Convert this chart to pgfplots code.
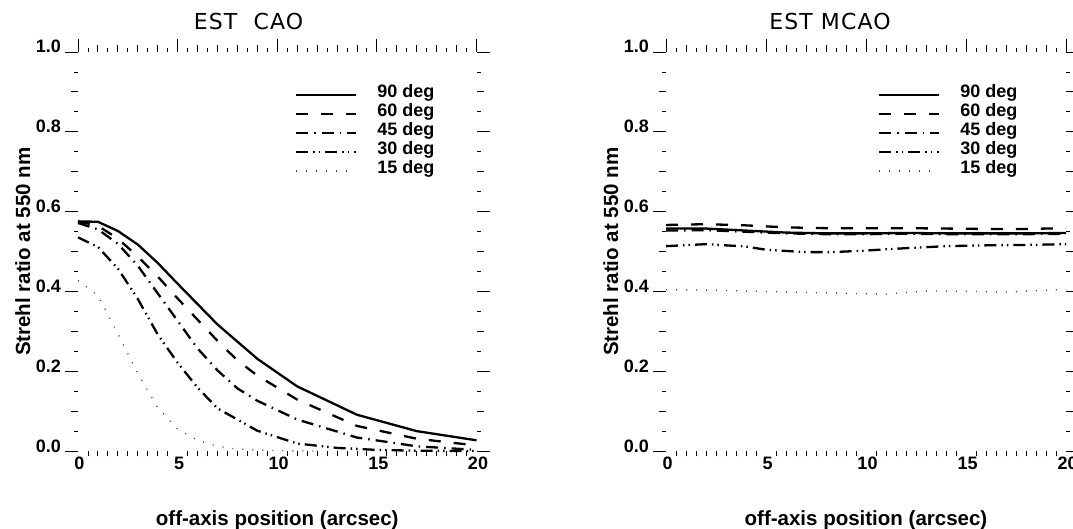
\documentclass[border=0pt]{standalone}
\usepackage{fontspec}
\setmainfont{Liberation Sans}
\newfontfamily\titlefont[LetterSpace=5]{DejaVu Sans}
\usepackage{pgfplots}
\pgfplotsset{compat=1.18}

% one pt of the picture is one pixel of the reference
\pgfplotsset{
  frame/.style={scale only axis, width=#1, height=399.5pt,
    xmin=0, xmax=20, ymin=0, ymax=1, clip=false,
    axis line style={draw=none}, tick align=outside,
    tick style={black, line width=0.9pt}},
  s90/.style={black, line width=2.3pt, solid},
  s60/.style={black, line width=2.3pt, dash pattern=on 12pt off 13pt},
  s45/.style={black, line width=2.3pt, dash pattern=on 12pt off 6pt on 1.5pt off 6pt},
  s30/.style={black, line width=2.3pt, dash pattern=on 12pt off 5pt on 1.5pt off 4pt on 1.5pt off 5pt},
  s15/.style={black!75, line width=1.3pt, dash pattern=on 1pt off 9pt},
  data axis/.style={frame=#1, anchor=south west,
    xtick={0,5,10,15,20}, xticklabels={0,5,10,15,20},
    ytick={0,0.2,0.4,0.6,0.8,1}, yticklabels={0.0,0.2,0.4,0.6,0.8,1.0},
    xtick pos=left, ytick pos=left, major tick length=0pt,
    xticklabel style={font=\bfseries\fontsize{18}{18}\selectfont, anchor=north, inner sep=0pt, yshift=-5.5pt, xshift=1.5pt},
    yticklabel style={font=\bfseries\fontsize{18}{18}\selectfont, anchor=base east, inner sep=0pt, xshift=-17pt, yshift=-1pt},
    xlabel={off-axis position (arcsec)},
    xlabel style={font=\bfseries\fontsize{20.5}{22}\selectfont, at={(axis description cs:0.5,0)}, anchor=base, yshift=-74.5pt},
    ylabel={Strehl ratio at 550 nm},
    ylabel style={font=\bfseries\fontsize{20.5}{22}\selectfont, at={(axis description cs:-0.12,0.5)}, anchor=base},
    title style={font=\titlefont\fontsize{22}{24}\selectfont, anchor=base, inner sep=0pt, yshift=16pt},
    legend cell align=left,
    legend image code/.code={\draw[##1] (0pt,-1.5pt) -- (60pt,-1.5pt);},
    legend style={draw=none, fill=none, anchor=north west,
      inner sep=0pt, outer sep=0pt, row sep=0pt, column sep=20pt,
      font=\bfseries\fontsize{18}{18}\selectfont,
      nodes={inner sep=0pt, text height=14pt, text depth=5pt}}},
}

% the three kinds of tick marks, each drawn by an empty axis over the data axis
\newcommand\tickframes[2]{%
  \begin{axis}[frame=#2, at={#1}, anchor=south west,
    xtick={0,5,10,15,20}, xtick pos=right,
    ytick={0,0.2,0.4,0.6,0.8,1}, ytick pos=both,
    major tick length=13pt,
    minor xtick={0.5,1,...,19.5}, minor ytick={0.05,0.15,0.25,0.35,0.45,0.55,0.65,0.75,0.85,0.95},
    minor tick length=4pt, xticklabels={}, yticklabels={}]
  \end{axis}
  \begin{axis}[frame=#2, at={#1}, anchor=south west,
    xtick={1,2,3,4,6,7,8,9,11,12,13,14,16,17,18,19}, xtick pos=right,
    ytick={0.1,0.3,0.5,0.7,0.9}, ytick pos=both,
    major tick length=7pt, xticklabels={}, yticklabels={}]
  \end{axis}
  \begin{axis}[frame=#2, at={#1}, anchor=south west,
    xtick={0.5,1,1.5,2,2.5,3,3.5,4,4.5,5.5,6,6.5,7,7.5,8,8.5,9,9.5,10.5,11,11.5,12,12.5,13,13.5,14,14.5,15.5,16,16.5,17,17.5,18,18.5,19,19.5},
    xtick pos=left, ytick=\empty,
    major tick length=5pt, xticklabels={}]
  \end{axis}}

\begin{document}
\begin{tikzpicture}

% ---------------- EST CAO ----------------
\tickframes{(78pt,77.5pt)}{398.5pt}
\begin{axis}[data axis=398.5pt, at={(78pt,77.5pt)},
  title={EST\ \ CAO}, title style={at={(axis description cs:0.428,1)}},
  legend style={at={(axis cs:10.89,0.92)}}]
\addplot[s90] coordinates {(0,0.576) (1,0.575) (2,0.552) (3,0.518) (4,0.472) (5,0.42) (7,0.318) (9,0.232) (11,0.163) (14,0.092) (17,0.051) (20,0.028)};
\addplot[s60] coordinates {(0,0.576) (1,0.565) (2,0.533) (3,0.488) (4,0.438) (5,0.383) (6,0.33) (7,0.277) (8,0.228) (9,0.19) (11,0.13) (14,0.064) (17,0.032) (20,0.015)};
\addplot[s45] coordinates {(0,0.572) (1,0.556) (2,0.52) (3,0.465) (4,0.396) (5,0.327) (6,0.258) (7,0.203) (8,0.158) (9,0.127) (11,0.08) (14,0.035) (17,0.013) (20,0.004)};
\addplot[s30] coordinates {(0,0.536) (1,0.512) (2,0.458) (3,0.382) (4,0.293) (5,0.222) (6,0.16) (7,0.108) (9,0.052) (11,0.02) (13,0.009) (15,0.004) (17,0.002) (20,0.001)};
\addplot[s15] coordinates {(0,0.428) (1,0.39) (2,0.295) (3,0.195) (4,0.11) (5,0.056) (6,0.028) (7,0.013) (8,0.006) (10,0.002) (12,0.001)};
\legend{90 deg, 60 deg, 45 deg, 30 deg, 15 deg}
\end{axis}

% ---------------- EST MCAO ----------------
\tickframes{(666pt,77.5pt)}{400pt}
\begin{axis}[data axis=400pt, at={(666pt,77.5pt)},
  title={EST MCAO}, title style={at={(axis description cs:0.41,1)}},
  legend style={at={(axis cs:10.6,0.92)}}]
\addplot[s90] coordinates {(0,0.558) (2,0.558) (4,0.553) (6,0.548) (8,0.546) (10,0.546) (12,0.547) (14,0.546) (16,0.546) (18,0.546) (20,0.547)};
\addplot[s60] coordinates {(0,0.567) (2,0.569) (4,0.566) (6,0.561) (8,0.559) (10,0.559) (12,0.559) (14,0.558) (16,0.557) (18,0.557) (20,0.559)};
\addplot[s45] coordinates {(0,0.553) (2,0.554) (4,0.55) (6,0.546) (8,0.544) (10,0.544) (12,0.545) (14,0.544) (16,0.544) (18,0.544) (20,0.545)};
\addplot[s30] coordinates {(0,0.514) (2,0.519) (4,0.513) (5,0.505) (7,0.499) (8.3,0.499) (10,0.503) (12,0.509) (14,0.514) (16,0.516) (18,0.517) (20,0.519)};
\addplot[s15] coordinates {(0,0.405) (2,0.404) (4,0.402) (6,0.399) (8,0.397) (10,0.395) (11,0.394) (13,0.402) (15,0.401) (17,0.399) (20,0.406)};
\legend{90 deg, 60 deg, 45 deg, 30 deg, 15 deg}
\end{axis}

% the page is the reference's frame, cutting the right plot as it does
\pgfresetboundingbox
\path[use as bounding box] (0,0) rectangle (1073pt,529pt);
\end{tikzpicture}
\end{document}
